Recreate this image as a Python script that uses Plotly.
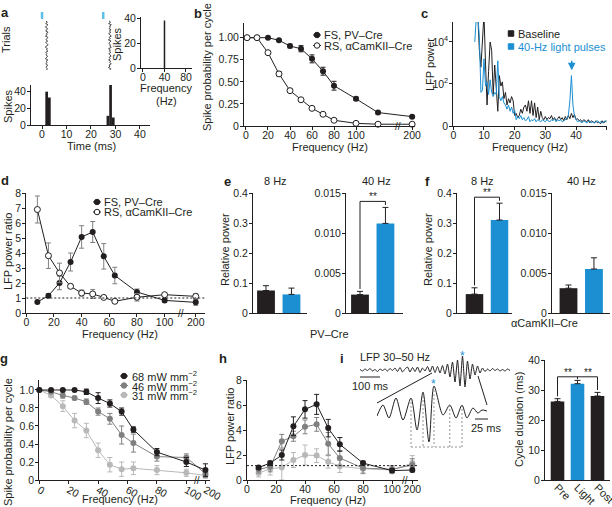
import plotly.graph_objects as go

W, H = 612, 507
FONT = "Liberation Sans, Arial, Helvetica, sans-serif"
INK = "#231f20"
BLUE = "#1b8fd2"
LBLUE = "#5cc0e8"
G46 = "#808080"
G31 = "#b8b8b8"

# ---------------- data ----------------
# a: raster + PSTH + inset
raster_trials = list(range(1, 41))
raster_t1 = [1.6, 2.2, 1.5, 2.4, 1.8, 1.4, 2.3, 1.9, 1.5, 2.5, 1.7, 2.1, 1.4, 2.4, 1.9, 1.6, 2.3, 1.5, 2.0, 2.5,
             1.7, 1.4, 2.2, 1.8, 2.4, 1.5, 2.0, 1.6, 2.3, 1.9, 1.4, 2.4, 1.7, 2.1, 1.5, 2.3, 1.8, 1.6, 2.2, 1.9]
raster_t2 = [27.4, 28.0, 27.2, 28.3, 27.6, 27.9, 27.3, 28.2, 27.5, 28.1, 27.2, 27.8, 28.3, 27.4, 27.9, 27.1, 28.2, 27.6, 27.3, 28.0,
             27.7, 28.3, 27.2, 27.9, 27.5, 28.1, 27.3, 27.8, 28.2, 27.4, 27.9, 27.2, 28.0, 27.6, 28.3, 27.4, 27.8, 27.1, 28.1, 27.7]
stim_times = [0, 25]
hist_t = [1.9, 3.0, 26.9, 28.0, 29.1]
hist_n = [40, 33, 11, 49, 9]
inset_f = [40]
inset_n = [38]

# b
b_freq = [1, 10, 20, 30, 40, 50, 60, 70, 80, 100, 120, 200]
b_fs = [1.0, 1.0, 1.0, 0.97, 0.905, 0.875, 0.76, 0.62, 0.456, 0.308, 0.152, 0.106]
b_fs_err = [0, 0, 0.005, 0.01, 0.02, 0.035, 0.045, 0.045, 0.05, 0.02, 0.015, 0.01]
b_rs = [1.0, 1.0, 0.83, 0.59, 0.40, 0.297, 0.20, 0.133, 0.065, 0.03, 0.02, 0.02]
b_rs_err = [0, 0, 0.01, 0.025, 0.02, 0.01, 0.01, 0.01, 0.01, 0.005, 0.005, 0.005]

# c (log10 power)
c_freq_base = [8 + 0.5 * i for i in range(85)]
c_base = [5.2, 3.6, 2.8, 4.1, 5.3, 3.0, 1.0, 2.6, 4.0, 3.6,
          1.5, 2.9, 2.0, 0.7, 2.4, 1.9, 2.1, 1.3, 1.6, 1.0,
          1.3, 1.1, 1.4, 1.2, 0.5, 0.6, 0.4, 0.5, 0.8, 0.6,
          0.9, 1.0, 0.7, 1.2, 0.6, 1.2, 0.5, 1.1, 0.4, 0.9,
          0.3, 0.7, 0.4, 0.3, 0.45, 0.3, 0.4, 0.35, 0.5, 0.3,
          0.4, 0.25, 0.35, 0.45, 0.3, 0.4, 0.25, 0.45, 0.3, 0.5,
          0.35, 0.6, 0.4, 0.55, 0.3, 0.35, 0.25, 0.3, 0.2, 0.3,
          0.25, 0.2, 0.3, 0.15, 0.25, 0.2, 0.15, 0.25, 0.15, 0.2,
          0.1, 0.25, 0.15, 0.2, 0.25]
c_freq_light = [7 + 0.5 * i for i in range(87)]
c_light = [4.0, 5.2, 5.3, 4.2, 1.6, 1.7, 3.2, 1.9, 2.1, 1.5,
           2.2, 1.6, 1.4, 1.6, 1.5, 3.1, 1.4, 1.2, 1.4, 1.1,
           1.0, 0.8, 1.0, 0.7, 0.9, 0.6, 0.75, 0.3, 0.45, 0.35,
           0.5, 0.3, 0.4, 0.25, 0.3, 0.45, 0.2, 0.3, 0.25, 0.35,
           0.2, 0.3, 0.25, 0.2, 0.3, 0.25, 0.2, 0.3, 0.25, 0.2,
           0.3, 0.25, 0.35, 0.2, 0.3, 0.25, 0.3, 0.2, 0.25, 0.3,
           0.35, 0.5, 1.2, 2.4, 1.0, 0.45, 0.3, 0.2, 0.25, 0.2,
           0.15, 0.25, 0.2, 0.15, 0.2, 0.25, 0.15, 0.2, 0.15, 0.2,
           0.25, 0.15, 0.2, 0.15, 0.2, 0.25, 0.2]

# d
d_freq = [8, 16, 24, 32, 40, 48, 56, 64, 80, 100, 200]
d_fs = [0.73, 1.15, 2.0, 3.4, 5.07, 5.4, 3.78, 2.5, 1.4, 0.84, 0.71]
d_fs_err = [0.08, 0.12, 0.45, 0.6, 0.75, 0.7, 0.85, 0.55, 0.2, 0.12, 0.2]
d_rs = [6.9, 3.82, 2.67, 1.78, 1.33, 1.27, 1.04, 0.78, 1.05, 1.22, 1.11]
d_rs_err = [0.9, 0.85, 0.65, 0.15, 0.2, 0.3, 0.08, 0.1, 0.25, 0.12, 0.18]

# e, f
e8_vals, e8_err = [0.075, 0.062], [0.016, 0.021]
e40_vals, e40_err = [0.0023, 0.0112], [0.0004, 0.0020]
f8_vals, f8_err = [0.063, 0.31], [0.021, 0.056]
f40_vals, f40_err = [0.0031, 0.0055], [0.0004, 0.0014]

# g
g_freq = [0, 8, 16, 24, 32, 40, 48, 56, 64, 80, 100, 200]
g68 = [1.0, 1.0, 1.0, 1.0, 0.98, 0.91, 0.85, 0.76, 0.56, 0.31, 0.20, 0.11]
g68_err = [0, 0, 0, 0, 0.03, 0.06, 0.04, 0.04, 0.03, 0.04, 0.05, 0.07]
g46 = [1.0, 0.98, 0.94, 0.91, 0.87, 0.76, 0.68, 0.50, 0.41, 0.26, 0.25, 0.07]
g46_err = [0, 0.01, 0.03, 0.02, 0.03, 0.04, 0.06, 0.1, 0.1, 0.05, 0.04, 0.04]
g31 = [1.0, 0.94, 0.82, 0.66, 0.55, 0.33, 0.17, 0.12, 0.13, 0.11, 0.08, 0.05]
g31_err = [0, 0.02, 0.06, 0.08, 0.08, 0.08, 0.08, 0.08, 0.07, 0.05, 0.04, 0.03]

# h
h_freq = [8, 16, 24, 32, 40, 48, 56, 64, 80, 100, 200]
h68 = [1.0, 1.35, 2.0, 4.3, 5.65, 6.05, 4.15, 2.85, 1.35, 0.75, 0.8]
h68_err = [0.1, 0.15, 0.4, 0.75, 0.7, 0.8, 0.7, 0.55, 0.15, 0.15, 0.15]
h46 = [0.85, 1.05, 3.1, 3.5, 4.25, 4.45, 2.9, 1.75, 0.95, 0.85, 1.2]
h46_err = [0.3, 0.4, 0.55, 0.4, 0.55, 0.55, 0.9, 0.6, 0.4, 0.3, 0.5]
h31 = [0.55, 0.9, 1.0, 1.6, 2.0, 1.95, 1.45, 1.1, 0.9, 0.8, 1.35]
h31_err = [0.3, 0.5, 1.0, 0.6, 0.8, 0.55, 0.5, 0.5, 0.4, 0.3, 0.6]

# i: LFP traces and cycle durations
lfp_t = [12.5 * i for i in range(61)]
lfp_v = [0.5, -1, 1, -0.5, 1.5, -1, 0.5, -1.5, 1, -0.5, 1, -1, 1.5, -0.5,
         2, -1.5, 2.5, -2, 1, 3, -2, 2.5, -1.5, 3, -2.5, 2, -1, 3.5,
         -2, 4, -2.5, 3.5, -3, 4.5,
         -4, 6, -7, 8, -12, 10, -16, 14, -17, 9, -9, 6, -5, 4, -3,
         2, -1.5, 1, -1, 1.5, -0.5, 1, -1, 0.5, -1, 1, -0.5]
zoom_t = [0, 11.5, 23, 36.5, 50, 65.4, 77, 88.5, 100, 109.6, 127, 140, 152, 163.5, 173, 184.6, 194, 202, 211.5]
zoom_v = [-4, 7, -6, 14, -8, 14, -18, 20, -30, 26, -3, 7, -6, 7, -6, 4, -1, 2, 1]
cycle_peaks = [5, 7, 9, 11, 13]
cyc_labels = ["Pre", "Light", "Post"]
cyc_vals = [26.2, 32.1, 28.0]
cyc_err = [0.9, 1.1, 1.2]


# ---------------- helpers ----------------
def brk(freqs, cut, pos):
    return [pos if f > cut else f for f in freqs]


def px_x(x):
    return x / W


def px_y(y):
    return 1 - y / H


layout = dict(width=W, height=H, margin=dict(l=0, r=0, t=0, b=0), paper_bgcolor="white",
              plot_bgcolor="rgba(0,0,0,0)", showlegend=False, template="none",
              font=dict(family=FONT, size=11, color=INK))

AX = dict(showline=True, linecolor=INK, linewidth=1, ticks="outside", ticklen=3, tickwidth=1,
          tickcolor=INK, showgrid=False, zeroline=False, automargin=False, fixedrange=True,
          tickfont=dict(size=10.5, color=INK, family=FONT))


def add_axes(n, xpx, ypx, xr, yr, xkw=None, ykw=None, hidden=False):
    xk = "xaxis" if n == 1 else f"xaxis{n}"
    yk = "yaxis" if n == 1 else f"yaxis{n}"
    xn = "x" if n == 1 else f"x{n}"
    yn = "y" if n == 1 else f"y{n}"
    xa = dict(AX, domain=[px_x(xpx[0]), px_x(xpx[1])], range=xr, anchor=yn, ticklabelstandoff=-4)
    ya = dict(AX, domain=[px_y(ypx[1]), px_y(ypx[0])], range=yr, anchor=xn, ticklabelstandoff=-1)
    if hidden:
        xa["visible"] = False
        ya["visible"] = False
    if xkw:
        xa.update(xkw)
    if ykw:
        ya.update(ykw)
    layout[xk] = xa
    layout[yk] = ya
    return xn, yn


def err(arr, color=INK, width=2.5):
    return dict(type="data", array=arr, color=color, thickness=1, width=width, visible=True)


def err_up(arr):
    return dict(type="data", array=arr, arrayminus=[0] * len(arr), symmetric=False,
                color=INK, thickness=1, width=3, visible=True)


fig = go.Figure()
anns = []
shapes = []


def ann(text, x, y, size=11, angle=0, color=INK, xanchor="center", yanchor="middle"):
    anns.append(dict(xref="paper", yref="paper", x=px_x(x), y=px_y(y), text=text, showarrow=False,
                     textangle=angle, xanchor=xanchor, yanchor=yanchor,
                     font=dict(size=size, color=color, family=FONT)))


noticks_x = dict(showticklabels=False, ticks="")

# ---------------- panel a ----------------
xr1, yr1 = add_axes(1, (31, 150), (10, 72), [-4.5, 44.1], [41.6, -7.76], hidden=True)
for tt in (raster_t1, raster_t2):
    fig.add_trace(go.Scatter(x=tt, y=raster_trials, mode="lines", xaxis=xr1, yaxis=yr1,
                             line=dict(width=0.9, color="#333333"), cliponaxis=False))
fig.add_trace(go.Scatter(x=stim_times, y=[-3.4] * len(stim_times), mode="markers", xaxis=xr1, yaxis=yr1,
                         marker=dict(symbol="line-ns", size=5, line=dict(width=2.5, color=LBLUE)),
                         cliponaxis=False))

xa2, ya2 = add_axes(2, (31, 150), (85, 125), [-4.5, 44.1], [0, 48],
                    xkw=dict(tickvals=[0, 10, 20, 30, 40]), ykw=dict(tickvals=[0, 20, 40]))
fig.add_trace(go.Bar(x=hist_t, y=hist_n, width=1.1, marker=dict(color=INK, line=dict(width=0)),
                     xaxis=xa2, yaxis=ya2))

xa3, ya3 = add_axes(3, (141, 192), (17, 68), [-3.7, 91.2], [0, 40.8],
                    xkw=dict(tickvals=[0, 40, 80]), ykw=dict(tickvals=[0, 20, 40]))
fig.add_trace(go.Bar(x=inset_f, y=inset_n, width=2.8, marker=dict(color=INK, line=dict(width=0)),
                     xaxis=xa3, yaxis=ya3))

ann("Trials", 6, 40, angle=-90)
ann("Spikes", 8, 106, angle=-90)
ann("Time (ms)", 91, 146)
ann("Spikes", 117, 44, angle=-90)
ann("Frequency", 166, 88)
ann("(Hz)", 166, 101)

# ---------------- panel b ----------------
xa4, ya4 = add_axes(4, (244, 415), (23, 126), [-1.8, 153.6], [0, 1.166],
                    xkw=dict(tickvals=[0, 20, 40, 60, 80, 100, 151],
                             ticktext=["0", "20", "40", "60", "80", "100", "200"]),
                    ykw=dict(tickvals=[0, 0.25, 0.5, 0.75, 1.0],
                             ticktext=["0", "0.25", "0.50", "0.75", "1.00"]))
bx = brk(b_freq, 150, 151)
fig.add_trace(go.Scatter(x=bx, y=b_fs, mode="lines+markers", xaxis=xa4, yaxis=ya4, cliponaxis=False,
                         line=dict(color=INK, width=1), marker=dict(size=6, color=INK),
                         error_y=err(b_fs_err)))
fig.add_trace(go.Scatter(x=bx, y=b_rs, mode="lines+markers", xaxis=xa4, yaxis=ya4, cliponaxis=False,
                         line=dict(color=INK, width=1),
                         marker=dict(size=6, color="white", line=dict(color=INK, width=1)),
                         error_y=err(b_rs_err)))
anns.append(dict(xref=xa4, yref=ya4, x=138, y=0, text="//", showarrow=False, font=dict(size=10, color=INK)))
ann("Spike probability per cycle", 207, 67, angle=-90)
ann("Frequency (Hz)", 330, 147)
ann("FS, PV–Cre", 322, 35, xanchor="left")
ann("RS, αCamKII–Cre", 322, 45.5, xanchor="left")

# ---------------- panel c ----------------
xa5, ya5 = add_axes(5, (453.3, 606.7), (22, 126), [0, 50], [0, 4.95],
                    xkw=dict(tickvals=[0, 10, 20, 30, 40, 50]),
                    ykw=dict(tickvals=[0, 2, 4], ticktext=["0", "10<sup>2</sup>", "10<sup>4</sup>"]))
fig.add_trace(go.Scatter(x=c_freq_base, y=c_base, mode="lines", xaxis=xa5, yaxis=ya5,
                         line=dict(color=INK, width=1)))
fig.add_trace(go.Scatter(x=c_freq_light, y=c_light, mode="lines", xaxis=xa5, yaxis=ya5,
                         line=dict(color=BLUE, width=1)))
anns.append(dict(xref=xa5, yref=ya5, x=38.6, y=2.65, ax=0, ay=-11, text="", showarrow=True,
                 arrowhead=2, arrowsize=1, arrowwidth=1.5, arrowcolor=BLUE))
ann("LFP power", 430, 64, angle=-90)
ann("Frequency (Hz)", 530, 147)
ann("Baseline", 516, 33.5, size=11, xanchor="left")
ann("40-Hz light pulses", 516, 46.5, size=11, xanchor="left", color=BLUE)

# ---------------- panel d ----------------
xa6, ya6 = add_axes(6, (26.3, 205), (193, 313), [0, 129.2], [0, 8],
                    xkw=dict(tickvals=[0, 20, 40, 60, 80, 100, 122.5],
                             ticktext=["0", "20", "40", "60", "80", "100", "200"]),
                    ykw=dict(tickvals=list(range(9))))
dx = brk(d_freq, 110, 122.5)
shapes.append(dict(type="line", xref=xa6 + " domain", yref=ya6, x0=0, x1=1, y0=1, y1=1,
                   line=dict(color=INK, width=1, dash="2px,2px")))
fig.add_trace(go.Scatter(x=dx, y=d_fs, mode="lines+markers", xaxis=xa6, yaxis=ya6, cliponaxis=False,
                         line=dict(color=INK, width=1), marker=dict(size=6, color=INK),
                         error_y=err(d_fs_err, color=G46)))
fig.add_trace(go.Scatter(x=dx, y=d_rs, mode="lines+markers", xaxis=xa6, yaxis=ya6, cliponaxis=False,
                         line=dict(color=INK, width=1),
                         marker=dict(size=6, color="white", line=dict(color=INK, width=1)),
                         error_y=err(d_rs_err, color=G46)))
anns.append(dict(xref=xa6, yref=ya6, x=112, y=0, text="//", showarrow=False, font=dict(size=10, color=INK)))
ann("LFP power ratio", 8, 252, angle=-90)
ann("Frequency (Hz)", 120, 334)
ann("FS, PV–Cre", 102, 202, xanchor="left")
ann("RS, αCamKII–Cre", 102, 212, xanchor="left")


# ---------------- panels e, f ----------------
def bar_panel(n, xpx, xr, vals, errs, yr, ytv, ytt):
    xa, ya = add_axes(n, xpx, (193, 313), xr, yr, xkw=noticks_x, ykw=dict(tickvals=ytv, ticktext=ytt))
    fig.add_trace(go.Bar(x=[1, 2], y=vals, width=0.7, xaxis=xa, yaxis=ya,
                         marker=dict(color=[INK, BLUE], line=dict(width=0)), error_y=err_up(errs)))
    return xa, ya


def bracket(xa, ya, vals, errs, yrange):
    tops = [v + e for v, e in zip(vals, errs)]
    top = max(tops) + 0.05 * yrange
    gap = 0.02 * yrange
    shapes.append(dict(type="path", xref=xa, yref=ya,
                       path=f"M 1,{tops[0] + gap} L 1,{top} L 2,{top} L 2,{tops[1] + gap}",
                       line=dict(color=INK, width=1)))
    anns.append(dict(xref=xa, yref=ya, x=1.5, y=top, text="**", showarrow=False, yanchor="bottom",
                     yshift=-3, font=dict(size=10, color=INK)))


e1 = bar_panel(7, (253, 307), [0.49, 2.61], e8_vals, e8_err, [0, 0.4],
               [0, 0.1, 0.2, 0.3, 0.4], ["0", "0.1", "0.2", "0.3", "0.4"])
e2 = bar_panel(8, (346, 403), [0.45, 2.69], e40_vals, e40_err, [0, 0.015],
               [0, 0.005, 0.01, 0.015], ["0", "0.005", "0.010", "0.015"])
bracket(e2[0], e2[1], e40_vals, e40_err, 0.015)
f1 = bar_panel(9, (457, 512), [0.3, 2.5], f8_vals, f8_err, [0, 0.4],
               [0, 0.1, 0.2, 0.3, 0.4], ["0", "0.1", "0.2", "0.3", "0.4"])
bracket(f1[0], f1[1], f8_vals, f8_err, 0.4)
f2 = bar_panel(10, (552, 610), [0.353, 2.63], f40_vals, f40_err, [0, 0.015],
               [0, 0.005, 0.01, 0.015], ["0", "0.005", "0.010", "0.015"])
ann("Relative power", 225, 250, angle=-90)
ann("8 Hz", 275, 181)
ann("40 Hz", 376, 181)
ann("PV–Cre", 329, 334)
ann("Relative power", 428, 250, angle=-90)
ann("8 Hz", 482, 181)
ann("40 Hz", 581, 181)
ann("αCamKII–Cre", 544, 323)

# ---------------- panel g ----------------
xa11, ya11 = add_axes(11, (39.3, 210), (380, 480), [0, 116.1], [0, 1.111],
                      xkw=dict(tickvals=[0, 20, 40, 60, 80, 100, 113],
                               ticktext=["0", "20", "40", "60", "80", "100", "200"]),
                      ykw=dict(tickvals=[0, 0.2, 0.4, 0.6, 0.8, 1.0],
                               ticktext=["0", "0.2", "0.4", "0.6", "0.8", "1.0"]))
gx = brk(g_freq, 105, 113)
for vals, errs, col in ((g31, g31_err, G31), (g46, g46_err, G46), (g68, g68_err, INK)):
    fig.add_trace(go.Scatter(x=gx, y=vals, mode="lines+markers", xaxis=xa11, yaxis=ya11, cliponaxis=False,
                             line=dict(color=col, width=1), marker=dict(size=6, color=col),
                             error_y=err(errs, color=col)))
anns.append(dict(xref=xa11, yref=ya11, x=107, y=0, text="//", showarrow=False, font=dict(size=10, color=INK)))
ann("Spike probability per cycle", 8, 442, angle=-90)
ann("Frequency (Hz)", 120, 499)
ann("68 mW mm<sup>−2</sup>", 130, 376, xanchor="left")
ann("46 mW mm<sup>−2</sup>", 130, 385.5, xanchor="left")
ann("31 mW mm<sup>−2</sup>", 130, 395, xanchor="left")

# ---------------- panel h ----------------
xa12, ya12 = add_axes(12, (247, 418), (380, 480), [0, 117.9], [0, 8],
                      xkw=dict(tickvals=[0, 20, 40, 60, 80, 100, 114],
                               ticktext=["0", "20", "40", "60", "80", "100", "200"]),
                      ykw=dict(tickvals=[0, 2, 4, 6, 8]))
hx = brk(h_freq, 105, 114)
shapes.append(dict(type="line", xref=xa12 + " domain", yref=ya12, x0=0, x1=1, y0=1.15, y1=1.15,
                   line=dict(color=INK, width=1, dash="2px,2px")))
for vals, errs, col in ((h31, h31_err, G31), (h46, h46_err, G46), (h68, h68_err, INK)):
    fig.add_trace(go.Scatter(x=hx, y=vals, mode="lines+markers", xaxis=xa12, yaxis=ya12, cliponaxis=False,
                             line=dict(color=col, width=1), marker=dict(size=6, color=col),
                             error_y=err(errs, color=col)))
anns.append(dict(xref=xa12, yref=ya12, x=109, y=0, text="//", showarrow=False, font=dict(size=10, color=INK)))
ann("LFP power ratio", 230, 427, angle=-90)
ann("Frequency (Hz)", 328, 500)

# ---------------- panel i ----------------
xa13, ya13 = add_axes(13, (360, 510), (350, 395), [0, 750], [-25, 20], hidden=True)
fig.add_trace(go.Scatter(x=lfp_t, y=lfp_v, mode="lines", xaxis=xa13, yaxis=ya13,
                         line=dict(color=INK, width=1, shape="spline", smoothing=0.6)))
xa14, ya14 = add_axes(14, (377, 488), (380, 450), [0, 213.5], [-38, 32], hidden=True)
fig.add_trace(go.Scatter(x=zoom_t, y=zoom_v, mode="lines", xaxis=xa14, yaxis=ya14,
                         line=dict(color=INK, width=1, shape="spline", smoothing=0.8)))
# cycle markers
for k in cycle_peaks:
    shapes.append(dict(type="line", xref=xa14, yref=ya14, x0=zoom_t[k], x1=zoom_t[k], y0=zoom_v[k], y1=-35,
                       line=dict(color="#777777", width=0.8, dash="2px,2px")))
shapes.append(dict(type="line", xref=xa14, yref=ya14, x0=zoom_t[cycle_peaks[0]], x1=zoom_t[cycle_peaks[-1]],
                   y0=-35, y1=-35, line=dict(color="#777777", width=0.8, dash="2px,2px")))
# scale bars
shapes.append(dict(type="line", xref=xa13, yref=ya13, x0=0, x1=100, y0=-7, y1=-7, line=dict(color=INK, width=1)))
shapes.append(dict(type="line", xref=xa14, yref=ya14, x0=188.5, x1=213.5, y0=-7, y1=-7, line=dict(color=INK, width=1)))
# zoom connectors
for (x0, y0, x1, y1) in ((432, 373, 377, 403), (478, 376, 487, 405)):
    shapes.append(dict(type="line", xref="paper", yref="paper", x0=px_x(x0), y0=px_y(y0), x1=px_x(x1), y1=px_y(y1),
                       line=dict(color=INK, width=1)))
ipk = lfp_v.index(max(lfp_v))
anns.append(dict(xref=xa13, yref=ya13, x=lfp_t[ipk], y=max(lfp_v), text="*", showarrow=False, yanchor="bottom",
                 yshift=-9, font=dict(size=12, color=BLUE)))
zpk = zoom_v.index(max(zoom_v))
anns.append(dict(xref=xa14, yref=ya14, x=zoom_t[zpk], y=max(zoom_v), text="*", showarrow=False, yanchor="bottom",
                 yshift=-7, font=dict(size=12, color=BLUE)))
ann("LFP 30–50 Hz", 358, 357, xanchor="left")
ann("100 ms", 370, 386)
ann("25 ms", 486, 428)

xa15, ya15 = add_axes(15, (545, 610), (360, 480), [0.375, 3.625], [0, 40],
                      xkw=dict(tickvals=[1, 2, 3], ticktext=cyc_labels, tickangle=45, ticks="",
                               ticklabeloverflow="allow",
                               tickfont=dict(size=11, color=INK, family=FONT)),
                      ykw=dict(tickvals=[0, 10, 20, 30, 40]))
fig.add_trace(go.Bar(x=[1, 2, 3], y=cyc_vals, width=0.68, xaxis=xa15, yaxis=ya15,
                     marker=dict(color=[INK, BLUE, INK], line=dict(width=0)), error_y=err_up(cyc_err)))
ctops = [v + e for v, e in zip(cyc_vals, cyc_err)]
ctop = max(ctops) + 1.2
shapes.append(dict(type="path", xref=xa15, yref=ya15,
                   path=f"M 1,{ctops[0] + 0.8} L 1,{ctop} L 3,{ctop} L 3,{ctops[2] + 0.8} M 2,{ctop} L 2,{ctops[1] + 0.4}",
                   line=dict(color=INK, width=1)))
for xm in (1.5, 2.5):
    anns.append(dict(xref=xa15, yref=ya15, x=xm, y=ctop, text="**", showarrow=False, yanchor="bottom",
                     yshift=-3, font=dict(size=10, color=INK)))
ann("Cycle duration (ms)", 519, 420, angle=-90)

# ---------------- legend keys (overlay, pixel space) ----------------
xa16, ya16 = add_axes(16, (0, W), (0, H), [0, W], [H, 0], hidden=True)


def key(xc, yc, color, fill, symbol="circle", seg=True):
    if seg:
        fig.add_trace(go.Scatter(x=[xc - 4, xc + 4], y=[yc, yc], mode="lines", xaxis=xa16, yaxis=ya16,
                                 line=dict(color=color, width=1)))
    fig.add_trace(go.Scatter(x=[xc], y=[yc], mode="markers", xaxis=xa16, yaxis=ya16,
                             marker=dict(symbol=symbol, size=5.5, color=fill, line=dict(color=color, width=1))))


key(317, 35, INK, INK)
key(317, 45.5, INK, "white")
key(97, 202, INK, INK)
key(97, 212, INK, "white")
key(124, 376, INK, INK)
key(124, 385.5, G46, G46)
key(124, 395, G31, G31)
key(511, 33.5, INK, INK, symbol="square", seg=False)
key(511, 46.5, BLUE, BLUE, symbol="square", seg=False)

# ---------------- panel letters ----------------
for letter, x, y in (("a", 5, 12), ("b", 198, 13), ("c", 424, 13), ("d", 5, 180), ("e", 227, 181),
                     ("f", 427, 181), ("g", 4, 358), ("h", 223, 358), ("i", 342, 358)):
    ann(f"<b>{letter}</b>", x, y, size=13)

layout["annotations"] = anns
layout["shapes"] = shapes
fig.update_layout(**layout)
fig.write_html("out.html", config={"displayModeBar": False, "staticPlot": True},
               post_script="document.body.style.margin='0px';document.body.style.padding='0px';"
                           "document.body.style.overflow='hidden';")
